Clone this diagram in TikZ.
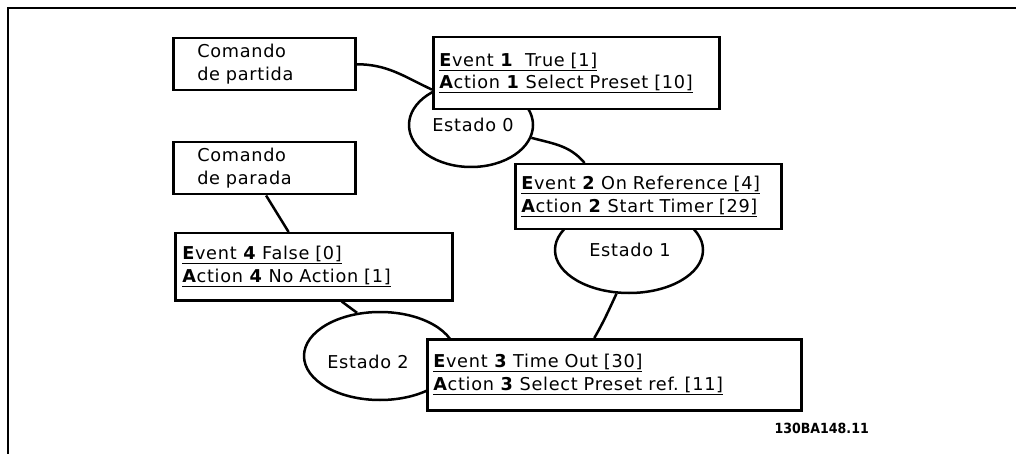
\documentclass[tikz,border=0pt]{standalone}
\usepackage{fontspec}
\setmainfont{DejaVu Sans}[LetterSpace=4]
\newfontfamily\condfont{DejaVu Sans Condensed}
\usetikzlibrary{calc,shapes.geometric}
\newcommand\ulx[1]{\leavevmode\setbox0\hbox{#1}\rlap{\rule[-4.5pt]{\wd0}{1.3pt}}\box0}
\tikzset{
  evbox/.style={draw, line width=2.5pt, fill=white, rectangle, align=left, anchor=north west,
    inner xsep=6pt, inner ysep=0pt, font=\fontsize{17.7}{22.5}\selectfont},
  cmdbox/.style={draw, line width=2.5pt, fill=white, rectangle, align=left, anchor=north west,
    inner xsep=24pt, inner ysep=0pt, font=\fontsize{17.7}{22.5}\selectfont},
  state/.style={draw, line width=2.5pt, ellipse, inner sep=0pt},
  stlabel/.style={font=\fontsize{17.7}{18}\selectfont},
  conn/.style={line width=2.5pt},
  frame/.style={line width=1.5pt}
}
\begin{document}
\begin{tikzpicture}[x=1pt,y=-1pt]
\useasboundingbox (0,0) rectangle (1016,454);
\coordinate (fa) at (8,454);
\coordinate (fb) at (8,8);
\coordinate (fc) at (1016,8);
\draw[frame] (fa) -- (fb) -- (fc);

% states (drawn first, boxes cover them)
\node[state, minimum width=124pt, minimum height=84pt] (s0) at (471,125) {};
\node[stlabel] (t0) at (473,125) {Estado 0};
\node[state, minimum width=148pt, minimum height=86pt] (s1) at (629,250) {};
\node[stlabel] (t1) at (630,250) {Estado 1};
\node[state, minimum width=152pt, minimum height=88pt] (s2) at (380,356) {};
\node[stlabel] (t2) at (368,362) {Estado 2};

% boxes
\node[cmdbox, minimum width=182pt, minimum height=52pt, text width=134pt] (cp) at (172,37) {Comando\\de partida};
\node[cmdbox, minimum width=182pt, minimum height=52pt, text width=134pt] (cpa) at (172,141) {Comando\\de parada};
\node[evbox, minimum width=286pt, minimum height=72pt, text width=274pt] (e1) at (432,36)
  {\ulx{\textbf{E}vent \textbf{1}\ \ True [1]}\\\ulx{\textbf{A}ction \textbf{1} Select Preset [10]}};
\node[evbox, minimum width=266pt, minimum height=65pt, text width=254pt] (e2) at (514,163)
  {\ulx{\textbf{E}vent \textbf{2} On Reference [4]}\\\ulx{\textbf{A}ction \textbf{2} Start Timer [29]}};
\node[evbox, minimum width=277pt, minimum height=67pt, text width=263pt, inner xsep=7pt] (e4) at (174,232)
  {\ulx{\textbf{E}vent \textbf{4} False [0]}\\\ulx{\textbf{A}ction \textbf{4} No Action [1]}};
\node[evbox, minimum width=374pt, minimum height=71pt, text width=362pt] (e3) at (426,338)
  {\ulx{\textbf{E}vent \textbf{3} Time Out [30]}\\\ulx{\textbf{A}ction \textbf{3} Select Preset ref.\ [11]}};

\node[font=\condfont\bfseries\fontsize{14}{16}\selectfont, anchor=west] (id) at (771,428) {130BA148.11};

% connectors
\draw[conn] (cp.east) to[out=0,in=155] ($(e1.north west)!0.72!(e1.south west)$);
\draw[conn] (s0.-12) to[out=-15,in=130] ($(e2.north west)!0.263!(e2.north east)$);
\draw[conn] (s1.-106) to[out=-115,in=60] ($(e3.north west)!0.447!(e3.north east)$);
\draw[conn] ($(cpa.south west)!0.51!(cpa.south east)$) -- ($(e4.north west)!0.41!(e4.north east)$);
\draw[conn] ($(e4.south west)!0.60!(e4.south east)$) -- (s2.118);
\end{tikzpicture}
\end{document}
